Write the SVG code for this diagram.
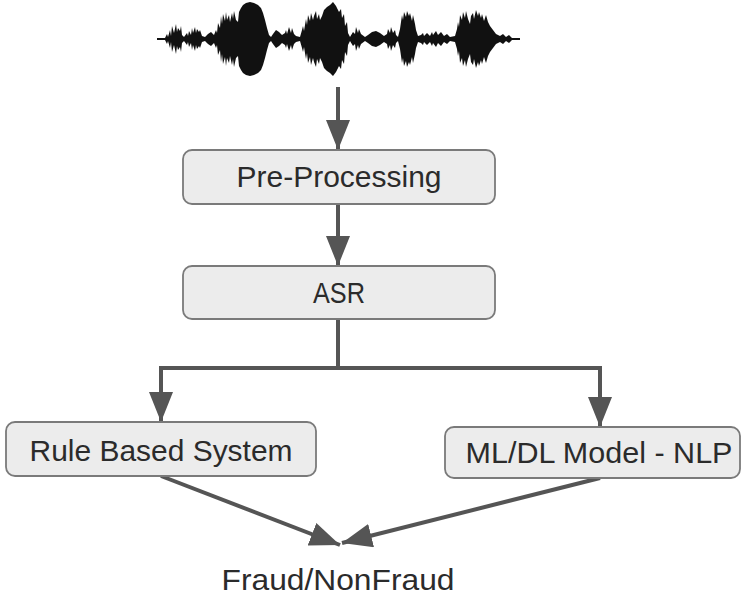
<svg xmlns="http://www.w3.org/2000/svg" width="746" height="596" viewBox="0 0 746 596">
<style>
.box{fill:#ececec;stroke:#7a7a7a;stroke-width:1.8}
.lbl{font-family:"Liberation Sans","DejaVu Sans",sans-serif;font-size:29px;fill:#2b2b2b;text-anchor:middle}
.con{stroke:#555;stroke-width:4;fill:none}
</style>
<defs>
<marker id="ah" markerUnits="userSpaceOnUse" markerWidth="32" markerHeight="24" refX="30" refY="12" orient="auto">
<path d="M0,0 L30,12 L0,24 Z" fill="#555"/>
</marker>
<path id="wtop" d="M157,39 L165,38 167,34 168,37 170,30 171,36 172,26 174,33 176,24 177,32 178,28 180,31 181,26 182,35 184,37 187,33 188,36 189,31 191,35 192,28 193,33 195,27 196,33 197,29 199,32 200,30 202,36 205,37 208,34 211,32 214,35 216,30 217,33 218,23 220,28 221,16 222,24 223,14 225,21 226,12 227,20 229,15 230,22 232,13 233,19 234,11 236,20 238,22 239,12 241,8 243,5 246,3 250,2 254,3 258,5 261,8 263,13 265,20 267,28 269,35 271,37 273,34 276,30 279,32 282,35 285,33 286,30 287,34 289,27 291,33 292,28 294,34 296,36 300,37 302,30 303,26 304,31 306,19 307,25 308,15 310,21 311,13 313,20 314,16 316,11 317,19 319,14 320,20 322,16 324,10 327,7 330,5 333,2 336,6 339,12 341,9 342,18 344,14 345,26 347,22 348,33 350,37 353,32 355,34 356,27 358,33 359,29 361,34 365,37 368,35 372,32 376,31 380,33 384,36 387,34 388,29 390,33 391,27 393,33 395,30 396,35 398,37 400,29 401,22 402,15 403,20 404,12 406,17 407,11 409,16 410,13 412,21 413,15 415,24 416,30 418,36 421,35 423,33 424,36 427,33 430,36 432,32 433,35 436,31 438,35 441,32 444,36 447,34 450,37 455,36 457,29 458,22 459,27 460,15 462,20 463,12 465,18 466,11 468,19 470,24 471,16 473,13 474,19 476,10 478,16 479,12 481,18 482,14 484,21 486,15 488,22 490,26 493,30 496,34 500,36 503,34 506,37 509,35 512,38 520,39 Z"/>
</defs>
<g id="waveform" fill="#111">
<use href="#wtop"/>
<use href="#wtop" transform="translate(0,78) scale(1,-1)"/>
<line x1="157" y1="39" x2="520" y2="39" stroke="#111" stroke-width="2"/>
</g>
<g id="connectors">
<line class="con" x1="338" y1="87" x2="338" y2="150" marker-end="url(#ah)"/>
<line class="con" x1="338" y1="204" x2="338" y2="266" marker-end="url(#ah)"/>
<polyline class="con" points="338,319 338,368"/>
<polyline class="con" points="161,368 600,368"/>
<line class="con" x1="161" y1="366" x2="161" y2="422" marker-end="url(#ah)"/>
<line class="con" x1="600" y1="366" x2="600" y2="427" marker-end="url(#ah)"/>
<line class="con" x1="161" y1="476" x2="340" y2="545" marker-end="url(#ah)"/>
<line class="con" x1="600" y1="478" x2="342" y2="543" marker-end="url(#ah)"/>
</g>
<g id="preprocessing">
<rect class="box" x="183" y="150" width="312" height="54" rx="9"/>
<text class="lbl" x="339" y="187" textLength="205" lengthAdjust="spacingAndGlyphs">Pre-Processing</text>
</g>
<g id="asr">
<rect class="box" x="183" y="266" width="312" height="53" rx="9"/>
<text class="lbl" x="339" y="303" textLength="52" lengthAdjust="spacingAndGlyphs">ASR</text>
</g>
<g id="rulebased">
<rect class="box" x="6" y="422" width="310" height="54" rx="9"/>
<text class="lbl" x="161" y="461" textLength="263" lengthAdjust="spacingAndGlyphs">Rule Based System</text>
</g>
<g id="mldl">
<rect class="box" x="445" y="427" width="295" height="51" rx="9"/>
<text class="lbl" x="599" y="463" textLength="267" lengthAdjust="spacingAndGlyphs">ML/DL Model - NLP</text>
</g>
<g id="fraud">
<text class="lbl" x="338" y="590" textLength="233" lengthAdjust="spacingAndGlyphs">Fraud/NonFraud</text>
</g>
</svg>
